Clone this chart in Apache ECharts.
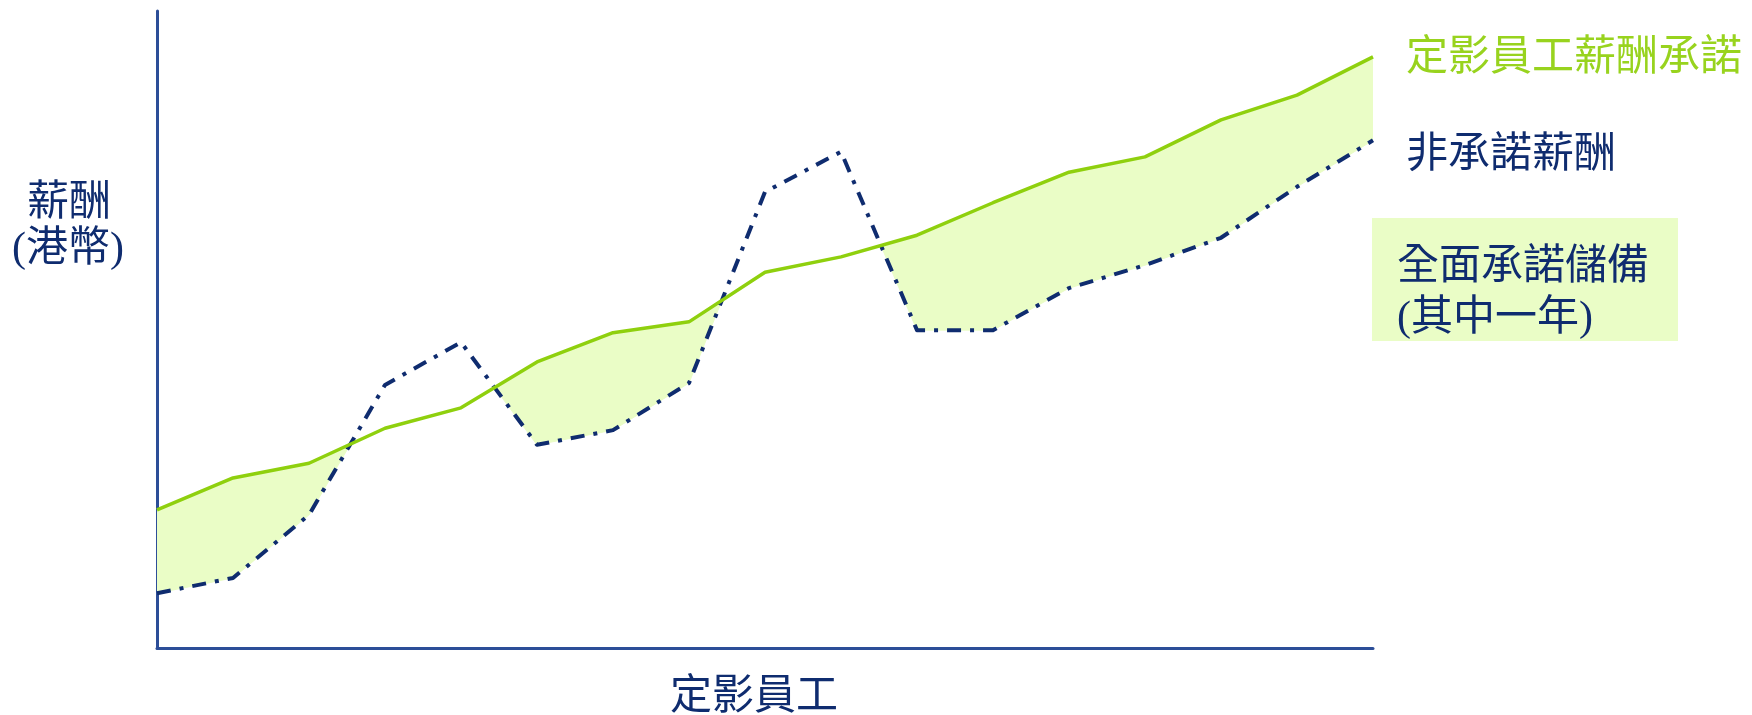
<!DOCTYPE html>
<html>
<head>
<meta charset="utf-8">
<script src="https://cdn.jsdelivr.net/npm/echarts@6/dist/echarts.min.js"></script>
<style>
html,body{margin:0;padding:0;background:#fff;}
#chart{width:1752px;height:715px;}
</style>
</head>
<body>
<div id="chart"></div>
<script>
// Employees (x categories, unlabeled in the reference)
const employees = ['1','2','3','4','5','6','7','8','9','10','11','12','13','14','15','16','17'];
// 定影員工薪酬承諾 (committed pay for pinned staff)
const committedPay = [21.7, 26.7, 29.0, 34.5, 37.7, 44.9, 49.5, 51.2, 59.0, 61.4, 64.8, 69.9, 74.7, 77.1, 82.9, 86.8, 92.8];
// 非承諾薪酬 (uncommitted pay)
const uncommittedPay = [8.6, 11.0, 20.9, 41.3, 48.0, 31.9, 34.2, 41.6, 71.6, 77.9, 49.9, 49.9, 56.5, 60.1, 64.4, 72.4, 79.7];
// Text
const yTitle = ['薪酬', '(港幣)'];
const xTitle = '定影員工';
const committedLabel = '定影員工薪酬承諾';
const uncommittedLabel = '非承諾薪酬';
const reserveLabel = ['全面承諾儲備', '(其中一年)'];

const NAVY = '#0F2C6F';
const GREEN = '#8FD00E';
const GREEN_TXT = '#98D31E';
const FILL = '#EAFDC6';
const AXIS = '#2C4E98';
const FONT = "'Liberation Serif', 'Noto Sans CJK TC', serif";

const chart = echarts.init(document.getElementById('chart'), null, {renderer: 'canvas'});

function renderReserve(params, api) {
  const children = [];
  for (let i = 0; i < committedPay.length - 1; i++) {
    const g0 = committedPay[i], g1 = committedPay[i + 1];
    const b0 = uncommittedPay[i], b1 = uncommittedPay[i + 1];
    const d0 = g0 - b0, d1 = g1 - b1;
    let pts = null;
    if (d0 >= 0 && d1 >= 0) {
      pts = [[i, g0], [i + 1, g1], [i + 1, b1], [i, b0]];
    } else if (d0 > 0 && d1 < 0) {
      const t = d0 / (d0 - d1);
      pts = [[i, g0], [i + t, g0 + t * (g1 - g0)], [i, b0]];
    } else if (d0 < 0 && d1 > 0) {
      const t = d0 / (d0 - d1);
      pts = [[i + t, g0 + t * (g1 - g0)], [i + 1, g1], [i + 1, b1]];
    }
    if (pts) {
      children.push({
        type: 'polygon',
        shape: {points: pts.map(p => api.coord(p))},
        style: {fill: FILL, stroke: FILL, lineWidth: 1}
      });
    }
  }
  return {type: 'group', children: children};
}

const option = {
  backgroundColor: '#ffffff',
  animation: false,
  grid: {left: 157, right: 379, top: 11, bottom: 67, containLabel: false},
  xAxis: {
    type: 'value', min: 0, max: employees.length - 1,
    axisLine: {show: true, lineStyle: {color: AXIS, width: 3}},
    axisTick: {show: false}, axisLabel: {show: false}, splitLine: {show: false}
  },
  yAxis: {
    type: 'value', min: 0, max: 100,
    axisLine: {show: true, lineStyle: {color: AXIS, width: 3}},
    axisTick: {show: false}, axisLabel: {show: false}, splitLine: {show: false}
  },
  series: [
    {
      type: 'custom',
      name: reserveLabel.join(''),
      renderItem: renderReserve,
      data: [0],
      z: 1,
      clip: true,
      silent: true
    },
    {
      type: 'line',
      name: committedLabel,
      data: committedPay.map((v, i) => [i, v]),
      showSymbol: false,
      lineStyle: {color: GREEN, width: 3.5},
      z: 3
    },
    {
      type: 'line',
      name: uncommittedLabel,
      data: uncommittedPay.map((v, i) => [i, v]),
      showSymbol: false,
      lineStyle: {color: NAVY, width: 4, type: [14, 9, 4, 9], cap: 'butt', join: 'round'},
      z: 2
    }
  ],
  graphic: [
    {type: 'text', left: 27, top: 183, style: {text: yTitle[0], font: "42px " + FONT, fill: NAVY}},
    {type: 'text', left: 12, top: 229, style: {text: yTitle[1], font: "42px " + FONT, fill: NAVY}},
    {type: 'text', left: 670, top: 677, style: {text: xTitle, font: "42px " + FONT, fill: NAVY}},
    {type: 'text', left: 1406, top: 38, style: {text: committedLabel, font: "42px " + FONT, fill: GREEN_TXT}},
    {type: 'text', left: 1406, top: 135, style: {text: uncommittedLabel, font: "42px " + FONT, fill: NAVY}},
    {type: 'rect', left: 1372, top: 218, shape: {width: 306, height: 123}, style: {fill: FILL}, z: -1},
    {type: 'text', left: 1397, top: 247, style: {text: reserveLabel[0], font: "42px " + FONT, fill: NAVY}},
    {type: 'text', left: 1397, top: 298, style: {text: reserveLabel[1], font: "42px " + FONT, fill: NAVY}}
  ]
};
chart.setOption(option);
</script>
</body>
</html>
